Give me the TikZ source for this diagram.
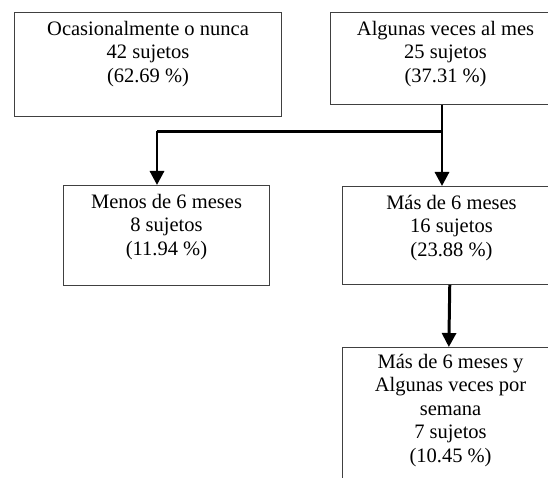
\documentclass[tikz,border=0pt]{standalone}
\usepackage{fontspec}
\setmainfont{Liberation Serif}
\usetikzlibrary{arrows.meta,positioning}
\begin{document}
\begin{tikzpicture}[x=0.585pt,y=-0.585pt,
  caja/.style={draw=black!75,line width=0.6pt,anchor=north west,inner sep=0pt},
  texto/.style={anchor=base,align=center,inner sep=0pt,font=\fontsize{12}{13.7}\selectfont},
  flecha/.style={line width=1.75pt,-{Triangle[length=8.2pt,width=8.2pt]}}]
\clip (0,0) rectangle (548,477);
\node[caja,minimum width=156.2pt,minimum height=60.8pt] (ocas) at (14,12) {};
\node[caja,minimum width=134.6pt,minimum height=53.8pt] (algm) at (330,12) {};
\node[caja,minimum width=120.5pt,minimum height=58.5pt] (menos) at (63,185) {};
\node[caja,minimum width=127.5pt,minimum height=57.3pt] (mas) at (342,186) {};
\node[caja,minimum width=126.4pt,minimum height=99.5pt] (massem) at (342,347) {};
\node[texto] (tocas) at ([yshift=-41pt]ocas.north) {Ocasionalmente o nunca\\42 sujetos\\(62.69 \%)};
\node[texto] (talgm) at ([yshift=-41pt]algm.north) {Algunas veces al mes\\25 sujetos\\(37.31 \%)};
\node[texto] (tmenos) at ([yshift=-41pt]menos.north) {Menos de 6 meses\\8 sujetos\\(11.94 \%)};
\node[texto] (tmas) at ([yshift=-41pt]mas.north) {Más de 6 meses\\16 sujetos\\(23.88 \%)};
\node[texto] (tmassem) at ([yshift=-67.3pt]massem.north) {Más de 6 meses y\\Algunas veces por\\semana\\7 sujetos\\(10.45 \%)};
\coordinate (fork) at (442,131);
\coordinate (izq) at (157,131);
\draw[line width=1.75pt] (algm.south -| fork) -- (fork) -- (izq);
\draw[flecha] (fork) -- (mas.north -| fork);
\draw[flecha] (izq) -- (menos.north -| izq);
\draw[flecha] ([xshift=-1pt]mas.south) -- ([xshift=-1pt]massem.north);
\end{tikzpicture}
\end{document}
